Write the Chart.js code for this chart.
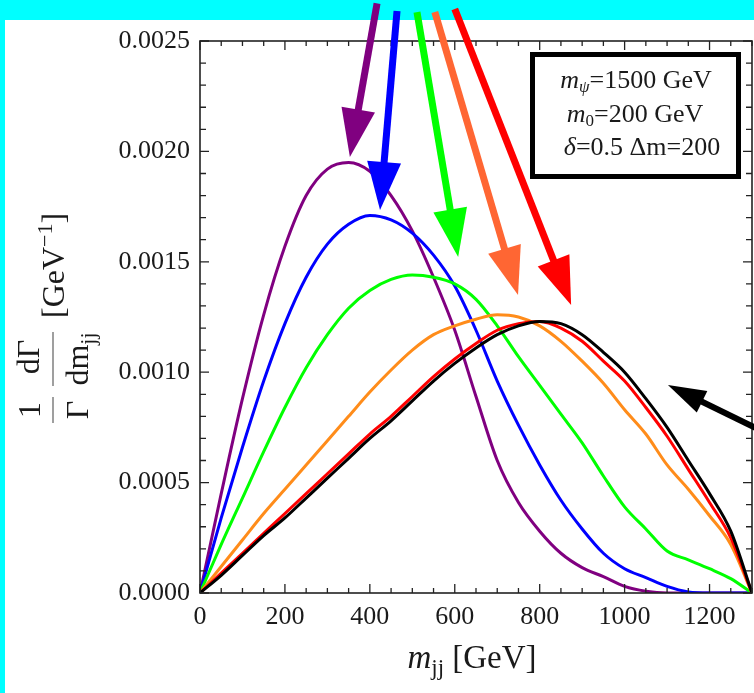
<!DOCTYPE html>
<html>
<head>
<meta charset="utf-8">
<script src="https://cdn.jsdelivr.net/npm/chart.js@4.4.0/dist/chart.umd.min.js"></script>
<style>
  html, body { margin: 0; padding: 0; background: #00ffff; }
  #wrap { width: 754px; height: 693px; }
</style>
</head>
<body>
<div id="wrap"><canvas id="chart" width="754" height="693"></canvas></div>
<script>
// m_jj grid (GeV) and the normalised distributions
const mjj = [0, 50, 100, 150, 200, 250, 300, 350, 400, 450, 500, 550, 600, 650,
  700, 750, 800, 850, 900, 950, 1000, 1050, 1100, 1150, 1200, 1250, 1300];

const purpleCurve = [0, 0.00045, 0.00088, 0.00126, 0.00157, 0.0018, 0.00192, 0.00195, 0.00191,
  0.0018, 0.00164, 0.00143, 0.00119, 0.00089, 0.0006, 0.00041, 0.00028, 0.00018, 0.000115,
  0.000074, 0.00003, 0.000008, 0, 0, 0, 0, 0];
const blueCurve = [0, 0.00034, 0.00066, 0.00096, 0.00122, 0.00143, 0.00158, 0.00167, 0.00171,
  0.00169, 0.00163, 0.00153, 0.00139, 0.00119, 0.00096, 0.00076, 0.00058, 0.00042, 0.00029,
  0.00018, 0.00011, 0.00007, 0.00003, 0.000005, 0, 0, 0];
const greenCurve = [0, 0.00022, 0.00043, 0.00064, 0.00084, 0.00102, 0.00117, 0.00129, 0.00137,
  0.00142, 0.00144, 0.00143, 0.0014, 0.00133, 0.00121, 0.00107, 0.00094, 0.00081, 0.00068,
  0.00053, 0.00039, 0.00029, 0.00019, 0.00015, 0.00011, 0.000065, 0];
const orangeCurve = [0, 0.00012, 0.00024, 0.00036, 0.00047, 0.00058, 0.00069, 0.0008, 0.00091,
  0.00101, 0.0011, 0.00117, 0.00121, 0.00124, 0.00126, 0.00125, 0.00121, 0.00114, 0.00105,
  0.00095, 0.00083, 0.00072, 0.00058, 0.00047, 0.00035, 0.00022, 0];
const redCurve = [0, 0.00009, 0.00018, 0.00027, 0.00036, 0.00045, 0.00054, 0.00063, 0.00072,
  0.0008, 0.00089, 0.00098, 0.00106, 0.00113, 0.00119, 0.00122, 0.00123, 0.0012, 0.00114,
  0.00105, 0.00096, 0.00084, 0.00071, 0.00056, 0.00041, 0.00025, 0];
const blackCurve = [0, 0.00008, 0.00017, 0.00026, 0.00034, 0.00043, 0.00052, 0.00061, 0.0007,
  0.00078, 0.00087, 0.00096, 0.00104, 0.00111, 0.00117, 0.00121, 0.00123, 0.00122, 0.00117,
  0.00109, 0.001, 0.00088, 0.00075, 0.0006, 0.00045, 0.00028, 0];

const xTicks = [0, 200, 400, 600, 800, 1000, 1200];
const yTicks = [0, 0.0005, 0.001, 0.0015, 0.002, 0.0025];

// annotation arrows, in data units: [x, y]
const arrows = [
  { color: "#800080", from: [417, 0.00267], to: [353, 0.001975] },
  { color: "#0000ff", from: [464, 0.002636], to: [424, 0.001735] },
  { color: "#00ff00", from: [511, 0.002631], to: [608, 0.001522] },
  { color: "#ff6633", from: [553, 0.002631], to: [749, 0.00135] },
  { color: "#ff0000", from: [600, 0.002645], to: [874, 0.001304] },
  { color: "#000000", from: [1319, 0.000738], to: [1102, 0.000942], small: true },
];

const SERIF = "'Liberation Serif', 'Times New Roman', serif";
const TEXT = "#1a1a1a";

function toPoints(ys) {
  return mjj.map((x, i) => ({ x: x, y: ys[i] }));
}

function drawRuns(ctx, runs, x, y, align) {
  let total = 0;
  runs.forEach((r) => {
    ctx.font = r.font;
    r.w = ctx.measureText(r.text).width;
    total += r.w;
  });
  let cx = align === "left" ? x : x - total / 2;
  runs.forEach((r) => {
    ctx.font = r.font;
    ctx.fillText(r.text, cx, y + (r.dy || 0));
    cx += r.w;
  });
}

function drawArrow(ctx, x0, y0, x1, y1, color, small) {
  const len = small ? 38 : 48;
  const half = small ? 12 : 17;
  const dx = x1 - x0, dy = y1 - y0;
  const d = Math.hypot(dx, dy);
  const ux = dx / d, uy = dy / d;
  const bx = x1 - ux * len, by = y1 - uy * len;
  ctx.strokeStyle = color;
  ctx.fillStyle = color;
  ctx.lineWidth = small ? 6 : 7;
  ctx.lineCap = "butt";
  ctx.beginPath();
  ctx.moveTo(x0, y0);
  ctx.lineTo(bx + ux * 4, by + uy * 4);
  ctx.stroke();
  ctx.beginPath();
  ctx.moveTo(x1, y1);
  ctx.lineTo(bx - uy * half, by + ux * half);
  ctx.lineTo(bx + uy * half, by - ux * half);
  ctx.closePath();
  ctx.fill();
}

const backdrop = {
  id: "backdrop",
  beforeDraw(chart) {
    const ctx = chart.ctx;
    ctx.save();
    ctx.fillStyle = "#00ffff";
    ctx.fillRect(0, 0, chart.width, chart.height);
    ctx.fillStyle = "#ffffff";
    ctx.fillRect(5, 20, chart.width - 5, chart.height - 20);
    ctx.restore();
  },
};

const frame = {
  id: "frame",
  afterDraw(chart) {
    const ctx = chart.ctx;
    const a = chart.chartArea;
    const xs = chart.scales.x, ys = chart.scales.y;
    ctx.save();

    // frame with inward ticks on all four sides
    ctx.strokeStyle = "#222";
    ctx.lineWidth = 1.6;
    ctx.strokeRect(a.left, a.top, a.right - a.left, a.bottom - a.top);
    ctx.lineWidth = 1.3;
    ctx.beginPath();
    for (let v = 0; v <= 1300; v += 50) {
      const px = xs.getPixelForValue(v);
      const l = v % 200 === 0 ? 9 : 5;
      ctx.moveTo(px, a.bottom); ctx.lineTo(px, a.bottom - l);
      ctx.moveTo(px, a.top); ctx.lineTo(px, a.top + l);
    }
    for (let k = 0; k <= 25; k++) {
      const py = ys.getPixelForValue(k * 0.0001);
      const l = k % 5 === 0 ? 9 : 6;
      ctx.moveTo(a.left, py); ctx.lineTo(a.left + l, py);
      ctx.moveTo(a.right, py); ctx.lineTo(a.right - l, py);
    }
    ctx.stroke();

    // parameter box
    ctx.fillStyle = "#fff";
    ctx.fillRect(532, 54, 206, 122);
    ctx.strokeStyle = "#000";
    ctx.lineWidth = 5;
    ctx.strokeRect(532.5, 54.5, 206, 122);
    ctx.fillStyle = TEXT;
    ctx.textBaseline = "alphabetic";
    const it = "italic 26px " + SERIF, rm = "26px " + SERIF, sm = "17px " + SERIF;
    drawRuns(ctx, [
      { text: "m", font: it },
      { text: "ψ", font: "italic " + sm, dy: 4 },
      { text: "=1500 GeV", font: rm },
    ], 636, 88);
    drawRuns(ctx, [
      { text: "m", font: it },
      { text: "0", font: sm, dy: 4 },
      { text: "=200 GeV", font: rm },
    ], 635, 122);
    drawRuns(ctx, [
      { text: "δ", font: it },
      { text: "=0.5 Δm=200", font: rm },
    ], 642, 155);

    // x title
    drawRuns(ctx, [
      { text: "m", font: "italic 33px " + SERIF },
      { text: "jj", font: "23px " + SERIF, dy: 7 },
      { text: " [GeV]", font: "33px " + SERIF },
    ], 472, 668);

    // y title, rotated
    ctx.save();
    ctx.translate(53, 0);
    ctx.rotate(-Math.PI / 2);
    const f32 = "32px " + SERIF, f22 = "22px " + SERIF;
    drawRuns(ctx, [{ text: "1", font: f32 }], -410, -13);
    drawRuns(ctx, [{ text: "Γ", font: f32 }], -410, 35);
    drawRuns(ctx, [{ text: "dΓ", font: f32 }], -357, -14);
    drawRuns(ctx, [{ text: "dm", font: f32 }, { text: "jj", font: f22, dy: 7 }], -359, 35);
    drawRuns(ctx, [
      { text: "[GeV", font: f32 },
      { text: "−1", font: f22, dy: -12 },
      { text: "]", font: f32 },
    ], -318, 11, "left");
    ctx.strokeStyle = "#888";
    ctx.lineWidth = 1.6;
    ctx.beginPath();
    ctx.moveTo(-423, 0); ctx.lineTo(-397, 0);
    ctx.moveTo(-386, 0); ctx.lineTo(-332, 0);
    ctx.stroke();
    ctx.restore();

    // arrows
    arrows.forEach((ar) => {
      drawArrow(ctx,
        xs.getPixelForValue(ar.from[0]), ys.getPixelForValue(ar.from[1]),
        xs.getPixelForValue(ar.to[0]), ys.getPixelForValue(ar.to[1]),
        ar.color, ar.small);
    });

    ctx.restore();
  },
};

function series(ys, color) {
  return {
    data: toPoints(ys),
    borderColor: color,
    borderWidth: 3,
    pointRadius: 0,
    cubicInterpolationMode: "monotone",
    fill: false,
  };
}

new Chart(document.getElementById("chart"), {
  type: "line",
  data: {
    datasets: [
      series(blackCurve, "#000000"),
      series(redCurve, "#ff0000"),
      series(orangeCurve, "#ff8c1a"),
      series(greenCurve, "#00ff00"),
      series(blueCurve, "#0000ff"),
      series(purpleCurve, "#800080"),
    ],
  },
  options: {
    responsive: false,
    animation: false,
    devicePixelRatio: 1,
    layout: { padding: { top: 41, right: 2, left: 0, bottom: 0 } },
    plugins: { legend: { display: false }, tooltip: { enabled: false } },
    scales: {
      x: {
        type: "linear",
        min: 0,
        max: 1300,
        afterFit: (s) => { s.height = 100; },
        afterBuildTicks: (s) => { s.ticks = xTicks.map((v) => ({ value: v })); },
        grid: { display: false, drawTicks: false },
        border: { display: false },
        ticks: {
          color: TEXT,
          padding: 9,
          maxRotation: 0,
          font: { family: SERIF, size: 26 },
          callback: (v) => String(v),
        },
      },
      y: {
        type: "linear",
        min: 0,
        max: 0.0025,
        afterFit: (s) => { s.width = 200; },
        afterBuildTicks: (s) => { s.ticks = yTicks.map((v) => ({ value: v })); },
        grid: { display: false, drawTicks: false },
        border: { display: false },
        ticks: {
          color: TEXT,
          padding: 10,
          font: { family: SERIF, size: 26 },
          callback: (v) => Number(v).toFixed(4),
        },
      },
    },
  },
  plugins: [backdrop, frame],
});
</script>
</body>
</html>
